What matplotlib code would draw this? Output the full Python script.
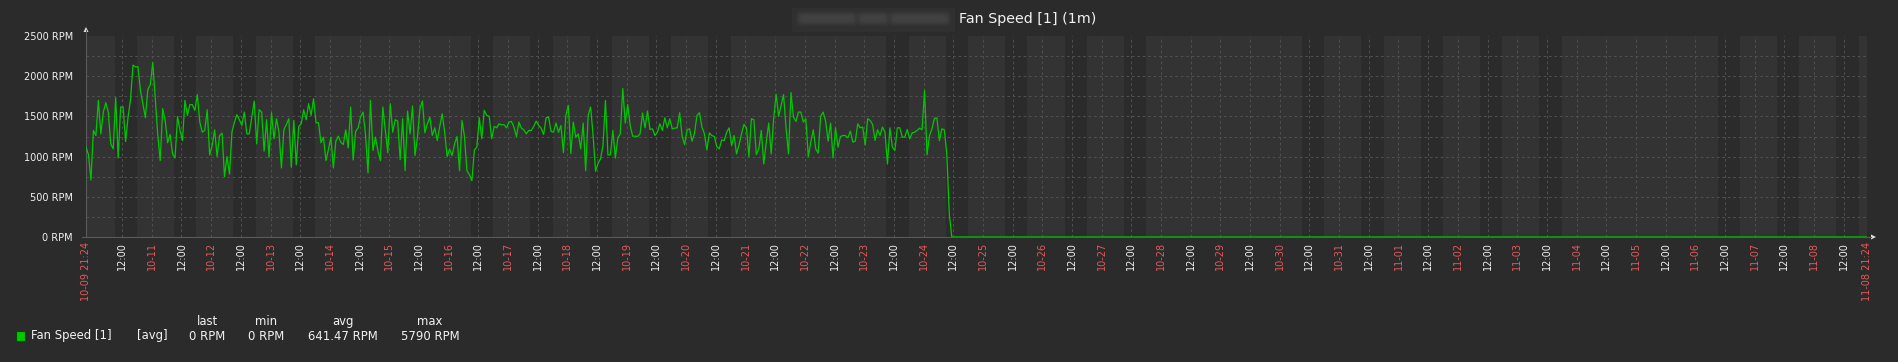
import matplotlib
matplotlib.use("Agg")
import matplotlib.pyplot as plt
import pandas as pd
from matplotlib.patches import Rectangle, FancyBboxPatch, Polygon

# time window of the graph (30 days, hourly trend values)
t_start = pd.Timestamp("2017-10-09 21:24")
t_end = pd.Timestamp("2017-11-08 21:24")

# hourly average fan speed
fan_rpm = [
    1117, 1025, 708, 1325, 1262, 1700, 1283, 1554, 1670, 1554,
    1158, 1096, 1733, 983, 1617, 1617, 1187, 1492, 1708, 2138,
    2117, 2117, 1825, 1658, 1483, 1833, 1896, 2171, 1721, 1275,
    950, 1596, 1450, 1171, 1275, 1033, 983, 1500, 1325, 1200,
    1700, 1512, 1646, 1646, 1575, 1771, 1429, 1304, 1325, 1583,
    1021, 1137, 1333, 1000, 1262, 1292, 750, 1000, 783, 1304,
    1429, 1521, 1458, 1387, 1554, 1283, 1283, 1483, 1692, 1158,
    1583, 1554, 1067, 1458, 992,
    1546, 1221, 1471, 1304, 858, 1333, 1400, 1471, 867, 1450,
    896, 1375, 1408, 1583, 1458, 1658, 1512, 1721, 1421, 1421,
    1171, 1242, 950, 1087, 1242, 858, 1192, 1254, 1179, 1150,
    1333, 1108, 1617, 958, 1312, 1358, 1492, 1554, 1271, 796,
    1700, 1075, 1242, 1075, 950, 1617, 1333, 1046, 1658, 1304,
    1458, 1442, 962, 1471, 825, 1567, 1283, 1629, 1012, 1242,
    1596, 1692, 1296, 1408, 1492, 1262, 1358, 1200, 1375, 1533,
    1304, 1000, 1092,
    1012, 1158, 1250, 825, 1450, 1250, 825, 775, 700, 1083,
    1117, 1483, 1221, 1575, 1512, 1500, 1221, 1375, 1358, 1408,
    1396, 1396, 1358, 1429, 1437, 1367, 1250, 1429, 1354, 1333,
    1283, 1325, 1325, 1375, 1442, 1387, 1354, 1275, 1483, 1492,
    1312, 1304, 1417, 1304, 1387, 1050, 1512, 1637, 1037, 1429,
    1242, 1283, 1096, 1417, 825, 1512, 1617, 1262, 817, 917,
    971, 1137, 1700, 1021, 1021, 1325, 983, 1233, 1283, 1846,
    1417, 1646,
    1387, 1254, 1254, 1250, 1283, 1542, 1358, 1567, 1337, 1346,
    1262, 1304, 1408, 1325, 1483, 1358, 1471, 1346, 1354, 1358,
    1546, 1250, 1150, 1333, 1346, 1192, 1292, 1512, 1546, 1367,
    1283, 1083, 1296, 1262, 1250, 1125, 1096, 1208, 1200, 1304,
    1358, 1137, 1262, 1033, 1146, 1283, 1400, 1358, 1000, 1471,
    1458, 1025, 1096, 1325, 908, 1179, 1417, 1033, 1471, 1775,
    1500, 1637, 1771, 1358, 1033, 1796, 1492, 1437, 1554, 1554,
    1429, 1471, 1000,
    1179, 1333, 1096, 1042, 1500, 1554, 1442, 1192, 1417, 983,
    1358, 1117, 1250, 1262, 1262, 1233, 1317, 1179, 1192, 1408,
    1358, 1367, 1146, 1471, 1450, 1400, 1200, 1333, 1262, 1367,
    1304, 908, 1358, 1117, 1075, 1358, 1358, 1242, 1242, 1337,
    1221, 1296, 1304, 1325, 1354, 1333, 1825, 1021, 1262, 1346,
    1479, 1479, 1200, 1346, 1333, 1033, 283,
]
# fan reads 0 from the drop until the end of the window
tail_rpm = [0, 0]

y_ticks = [0, 500, 1000, 1500, 2000, 2500]
y_minor = [250, 500, 750, 1000, 1250, 1500, 1750, 2000, 2250]
legend_cols = ["last", "min", "avg", "max"]
legend_vals = ["0 RPM", "0 RPM", "641.47 RPM", "5790 RPM"]

BG = "#2b2b2b"
NONWORK = "#333333"
GRID = "#4f4f4f"
TEXT = "#f2f2f2"
HIGHLIGHT = "#e45959"
GREEN = "#00c800"

times = pd.date_range(t_start, periods=len(fan_rpm), freq="h")
tail_times = [times[-1] + pd.Timedelta(hours=1), t_end]

W, H = 1898, 362
fig = plt.figure(figsize=(W / 100, H / 100), dpi=100, facecolor=BG)

PL, PR, PT, PB = 86, 1867, 36, 237
ax = fig.add_axes([PL / W, 1 - PB / H, (PR - PL) / W, (PB - PT) / H])
ax.set_facecolor(NONWORK)

# working time (Mon-Fri 09:00-18:00) drawn darker
for d in pd.date_range(t_start.normalize(), t_end.normalize(), freq="D"):
    if d.weekday() < 5:
        ax.axvspan(d + pd.Timedelta(hours=9), d + pd.Timedelta(hours=18),
                   color=BG, lw=0, zorder=0.1)

# x ticks: start, every 12h, end (first midnight skipped, too close to start)
noon_ticks = list(pd.date_range("2017-10-10 12:00", "2017-11-08 12:00", freq="D"))
day_ticks = list(pd.date_range("2017-10-11", "2017-11-08", freq="D"))
x_ticks = [t_start] + sorted(noon_ticks + day_ticks) + [t_end]
x_labels = []
x_colors = []
for t in x_ticks:
    if t in (t_start, t_end):
        x_labels.append(t.strftime("%m-%d %H:%M"))
        x_colors.append(HIGHLIGHT)
    elif t.hour == 12:
        x_labels.append("12:00")
        x_colors.append(TEXT)
    else:
        x_labels.append(t.strftime("%m-%d"))
        x_colors.append(HIGHLIGHT)

dash = (0, (2.6, 2.6))
for v in y_minor:
    ax.axhline(v, color=GRID, lw=0.75, ls=dash, zorder=0.5)
for t in x_ticks[1:-1]:
    ax.axvline(t, color=GRID, lw=0.75, ls=dash, zorder=0.5)

ax.plot(list(times) + tail_times, fan_rpm + tail_rpm, color=GREEN, lw=0.9, zorder=3)

ax.set_xlim(t_start, t_end)
ax.set_ylim(0, 2500)
ax.set_yticks(y_ticks)
ax.set_yticklabels([f"{v} RPM" for v in y_ticks])
ax.set_xticks(x_ticks)
ax.set_xticklabels(x_labels)
ax.tick_params(axis="y", length=0, pad=9.4, labelsize=7, labelcolor=TEXT)
ax.tick_params(axis="x", length=0, pad=3.5, labelsize=7, labelrotation=90)
for lab, c in zip(ax.get_xticklabels(), x_colors):
    lab.set_color(c)

for s in ("top", "right"):
    ax.spines[s].set_visible(False)
for s in ("left", "bottom"):
    ax.spines[s].set_color("#5a5a5a")
    ax.spines[s].set_linewidth(0.8)

# overlay in pixel coords for title, axis arrows and legend
ov = fig.add_axes([0, 0, 1, 1], zorder=-1)
ov.set_xlim(0, W)
ov.set_ylim(H, 0)
ov.axis("off")

ov.plot([PL, PL], [30, PT], color="#5a5a5a", lw=0.8)
ov.plot([82, PL], [PB, PB], color="#5a5a5a", lw=0.8)
ov.plot([PR, 1871], [PB, PB], color="#5a5a5a", lw=0.8)
ov.add_patch(Polygon([[83.5, 32], [88.5, 32], [86, 27]], closed=True, color="#e0e0e0", lw=0))
ov.add_patch(Polygon([[1871, 234.5], [1871, 239.5], [1876, 237]], closed=True, color="#e0e0e0", lw=0))

# blurred host name in the title
ov.add_patch(Rectangle((792, 8), 163, 24, color="#303030", lw=0))
for x0, x1 in [(796, 858), (856, 890), (888, 951)]:
    for k, a in [(0, 0.18), (1.5, 0.25), (3, 0.3), (4.5, 0.3)]:
        ov.add_patch(FancyBboxPatch((x0 + k, 11 + k), x1 - x0 - 2 * k, 15 - 2 * k,
                                    boxstyle="round,pad=0,rounding_size=5",
                                    color="#4a4a4a", alpha=a, lw=0))
ov.text(959, 18.5, "Fan Speed [1] (1m)", color=TEXT, fontsize=10.3, ha="left", va="center")

# legend
ov.add_patch(Rectangle((16, 331), 9.5, 9.5, facecolor=GREEN, edgecolor="#005000", lw=0.8))
ov.text(31, 336, "Fan Speed [1]", color=TEXT, fontsize=8.4, ha="left", va="center")
ov.text(137, 336, "[avg]", color=TEXT, fontsize=8.4, ha="left", va="center")
for cx, head, val in zip([207, 266, 343, 430], legend_cols, legend_vals):
    ov.text(cx, 321.5, head, color=TEXT, fontsize=8.4, ha="center", va="center")
    ov.text(cx, 336, val, color=TEXT, fontsize=8.4, ha="center", va="center")

fig.savefig("out.png", dpi=100, facecolor=BG)
